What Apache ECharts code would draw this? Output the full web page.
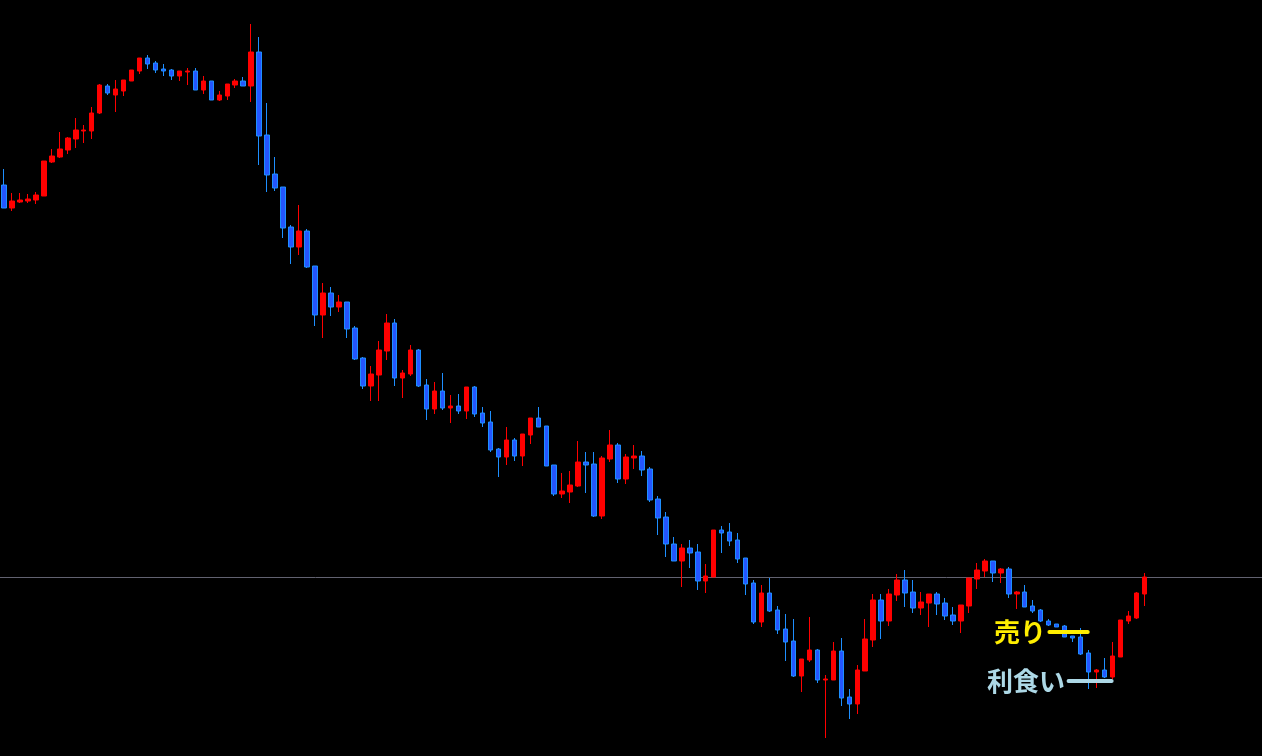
<!DOCTYPE html>
<html><head><meta charset="utf-8">
<script src="https://cdn.jsdelivr.net/npm/echarts@6/dist/echarts.min.js"></script>
<style>html,body{margin:0;padding:0;background:#000;overflow:hidden}#c{width:1262px;height:756px}</style>
</head><body><div id="c"></div>
<script>
// OHLC values (arbitrary price units)
const opens = [571,548,554,555,556,560,594,599,606,617, 625,625,643,670,661,665,675,685,698,693, 687,686,680,684,685,666,675,656,660,671, 675,670,704,621,582,569,529,509,525,490, 441,463,449,454,428,398,370,381,405,433, 378,382,406,371,347,365,348,350,345,369, 343,334,307,299,316,300,321,338,330,291, 262,264,270,294,292,240,297,311,277,298, 300,287,257,239,212,195,208,204,175,179, 226,224,216,198,173,134,163,146,127,115, 80,96,106,76,76,105,59,52,85,116, 156,135,161,176,164,148,153,162,153,141, 135,150,177,185,195,183,187,162,164,150, 146,135,132,130,120,119,103,84,86,79, 99,135,138,162];
const closes = [548,555,556,557,561,595,600,607,618,626, 626,643,671,663,667,676,686,698,692,686, 685,680,685,685,666,675,656,661,672,675, 670,704,620,581,568,528,509,525,489,441, 463,449,454,427,397,370,382,406,433,378, 383,406,370,347,365,348,350,345,369,342, 333,306,299,316,300,322,338,329,290,262, 265,271,294,291,240,298,311,277,299,300, 286,256,238,212,195,208,203,175,180,226, 223,215,197,172,134,163,145,126,114,80, 97,106,76,77,105,58,52,86,117,156, 135,162,176,163,148,154,162,152,140,135, 151,178,186,195,183,187,162,164,149,145, 135,131,129,119,118,102,84,86,79,100, 136,140,163,179];
const lows = [548,545,553,553,552,560,593,598,602,608, 613,617,642,661,644,660,675,682,687,683, 680,676,675,671,666,662,656,655,656,668, 670,654,591,564,565,518,492,501,488,430, 418,440,444,418,396,367,355,355,396,370, 358,380,369,336,342,346,333,342,337,339, 329,304,279,291,295,290,312,329,290,260, 258,253,269,263,239,237,294,273,272,287, 280,254,221,199,195,169,188,166,163,179, 203,210,193,161,132,129,144,122,95,79, 64,94,73,18,76,50,37,42,85,109, 117,130,155,149,143,141,129,141,136,131, 123,143,167,179,174,173,158,147,149,143, 134,130,129,119,114,101,67,68,78,77, 99,132,137,150];
const highs = [587,563,563,562,564,595,607,624,619,638, 631,649,672,672,676,676,686,698,701,695, 692,687,685,688,688,680,675,665,672,677, 679,732,719,653,599,569,531,551,527,490, 473,469,461,454,430,399,390,415,442,437, 386,411,407,377,374,383,361,362,369,370, 349,345,308,329,318,322,338,349,330,291, 283,285,315,304,304,300,326,313,302,311, 305,289,260,244,219,212,216,212,192,226, 230,233,223,198,176,171,178,150,142,137, 97,139,107,81,114,118,67,91,137,162, 162,167,182,186,176,164,162,164,158,149, 151,178,193,197,195,188,189,165,171,156, 147,137,132,131,120,128,106,87,98,114, 136,145,164,183];
const currentPrice = 178.5;
const sellLevel = 124;
const sellRange = [131.1, 135.9];
const takeProfitLevel = 75;
const takeProfitRange = [133.5, 138.9];
const sellText = '売り';
const takeProfitText = '利食い';
const emptySlots = 13;

const n = opens.length;
const total = n + emptySlots;
const categories = Array.from({length: total}, (_, i) => String(i + 1));
const candles = [];
for (let i = 0; i < total; i++) {
  candles.push(i < n ? [opens[i], closes[i], lows[i], highs[i]] : '-');
}

const chart = echarts.init(document.getElementById('c'), null, {renderer: 'canvas'});
const labelFont = {fontSize: 26, fontWeight: 'bold', fontFamily: '"Noto Sans CJK JP", sans-serif'};
function annotation(level, range, color, text) {
  return {
    type: 'line', xAxisIndex: 1, yAxisIndex: 0, silent: true, z: 5,
    symbol: 'circle', symbolSize: 1, showSymbol: true,
    itemStyle: {color: color},
    lineStyle: {color: color, width: 4, cap: 'round'},
    data: [
      {value: [range[0], level], label: Object.assign({show: true, position: 'left', distance: 3, color: color, formatter: text}, labelFont)},
      {value: [range[1], level]}
    ]
  };
}
chart.setOption({
  backgroundColor: '#000',
  animation: false,
  grid: [
    {left: -4, top: 0, width: total * 8, height: 756, containLabel: false},
    {left: 0, top: 0, right: 0, height: 756, containLabel: false}
  ],
  xAxis: [
    {type: 'category', gridIndex: 0, data: categories, boundaryGap: true, show: false},
    {type: 'value', gridIndex: 0, min: -0.5, max: total - 0.5, show: false},
    {type: 'value', gridIndex: 1, min: 0, max: 1, show: false}
  ],
  yAxis: [
    {type: 'value', gridIndex: 0, min: 0, max: 756, show: false, splitLine: {show: false}},
    {type: 'value', gridIndex: 1, min: 0, max: 756, show: false, splitLine: {show: false}}
  ],
  series: [
    {
      type: 'line', xAxisIndex: 2, yAxisIndex: 1, silent: true, z: 1,
      symbol: 'none', lineStyle: {color: '#626270', width: 1},
      data: [[0, currentPrice], [1, currentPrice]]
    },
    {
      type: 'candlestick',
      xAxisIndex: 0, yAxisIndex: 0,
      data: candles,
      barWidth: 5,
      z: 3,
      itemStyle: {
        color: '#ff0000', borderColor: '#ff0000',
        color0: '#2456ff', borderColor0: '#1e8fff',
        borderWidth: 1
      }
    },
    annotation(sellLevel, sellRange, '#ffee00', sellText),
    annotation(takeProfitLevel, takeProfitRange, '#add8e6', takeProfitText)
  ]
});
</script>
</body></html>
